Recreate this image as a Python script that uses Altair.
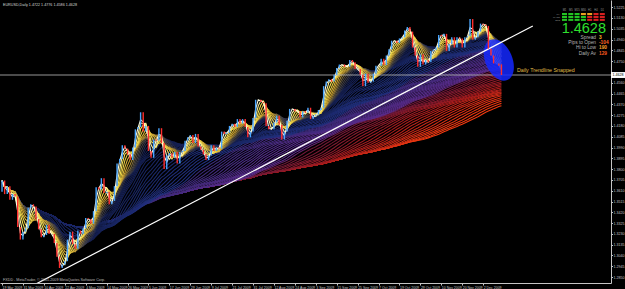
import json
import altair as alt
import pandas as pd

# ---------------- data ----------------
# daily closes, 19 Mar 2009 .. 11 Dec 2009 (bar index 0..191)
closes = [
    1.3700, 1.3580, 1.3650, 1.3530, 1.3580, 1.3560, 1.3290, 1.3180, 1.3250, 1.3280,
    1.3460, 1.3490, 1.3470, 1.3360, 1.3270, 1.3200, 1.3220, 1.3310, 1.3230, 1.3230,
    1.3150, 1.3030, 1.2930, 1.2960, 1.2990, 1.3180, 1.3250, 1.3140, 1.3100, 1.3260,
    1.3230, 1.3280, 1.3370, 1.3360, 1.3320, 1.3430, 1.3640, 1.3620, 1.3720, 1.3590,
    1.3600, 1.3490, 1.3520, 1.3650, 1.3850, 1.3890, 1.4010, 1.3980, 1.3930, 1.3880,
    1.3990, 1.4150, 1.4170, 1.4300, 1.4130, 1.4180, 1.3960, 1.3900, 1.4060, 1.4050,
    1.4160, 1.4030, 1.3800, 1.3920, 1.3940, 1.3900, 1.3950, 1.3850, 1.3950, 1.3960,
    1.4050, 1.4080, 1.4100, 1.4030, 1.4110, 1.4000, 1.3970, 1.3930, 1.3880, 1.3920,
    1.4010, 1.3960, 1.3990, 1.3980, 1.4130, 1.4110, 1.4120, 1.4180, 1.4200, 1.4170,
    1.4240, 1.4200, 1.4240, 1.4170, 1.4080, 1.4130, 1.4250, 1.4410, 1.4410, 1.4390,
    1.4380, 1.4180, 1.4150, 1.4150, 1.4210, 1.4270, 1.4190, 1.4060, 1.4130, 1.4225,
    1.4330, 1.4330, 1.4310, 1.4310, 1.4255, 1.4310, 1.4295, 1.4340, 1.4240, 1.4270,
    1.4280, 1.4320, 1.4340, 1.4530, 1.4570, 1.4590, 1.4570, 1.4630, 1.4690, 1.4720,
    1.4720, 1.4700, 1.4700, 1.4760, 1.4740, 1.4680, 1.4680, 1.4630, 1.4530, 1.4640,
    1.4560, 1.4570, 1.4640, 1.4710, 1.4710, 1.4770, 1.4715, 1.4800, 1.4855, 1.4930,
    1.4930, 1.4910, 1.4950, 1.4960, 1.5020, 1.5050, 1.5010, 1.4870, 1.4800, 1.4700,
    1.4810, 1.4720, 1.4760, 1.4740, 1.4840, 1.4850, 1.4870, 1.4980, 1.4970, 1.4990,
    1.4840, 1.4900, 1.4960, 1.4870, 1.4960, 1.4950, 1.4870, 1.4960, 1.4970, 1.5120,
    1.4940, 1.4960, 1.5010, 1.5080, 1.5070, 1.5060, 1.4860, 1.4800, 1.4730, 1.4730,
    1.4710, 1.4628,
]
first_open = 1.3600
last_open = 1.4722

date_labels = [
    "19 Mar 2009", "31 Mar 2009", "10 Apr 2009", "22 Apr 2009", "4 May 2009",
    "14 May 2009", "26 May 2009", "5 Jun 2009", "17 Jun 2009", "29 Jun 2009",
    "9 Jul 2009", "21 Jul 2009", "31 Jul 2009", "12 Aug 2009", "24 Aug 2009",
    "3 Sep 2009", "15 Sep 2009", "25 Sep 2009", "7 Oct 2009", "19 Oct 2009",
    "29 Oct 2009", "10 Nov 2009", "20 Nov 2009", "2 Dec 2009",
]
date_tick_bars = list(range(0, 8 * len(date_labels), 8))

price_ticks = [
    1.5225, 1.5130, 1.5035, 1.4940, 1.4845, 1.4750, 1.4560, 1.4465, 1.4370,
    1.4275, 1.4180, 1.4085, 1.3990, 1.3895, 1.3800, 1.3705, 1.3610, 1.3515,
    1.3420, 1.3325, 1.3230, 1.3135, 1.3040, 1.2945, 1.2850,
]

# moving-average ribbon periods (fast -> slow)
fast_periods = list(range(2, 19))
mid_periods = list(range(20, 51, 2))
slow_periods = list(range(52, 91, 2))
vslow_periods = list(range(93, 163, 3))

trend_bar = [8, 203]
trend_price = [1.2730, 1.5060]
bid_price = 1.4628
ellipse_bar = [190]
ellipse_price = [1.4760]

header_text = "EURUSD,Daily  1.4722 1.4776 1.4586 1.4628"
footer_text = "FXDD - MetaTrader, \u00a9 2001-2009 MetaQuotes Software Corp."
note_text = "Daily Trendline Snapped"
big_price = "1.4628"
stat_labels = ["Spread", "Pips to Open", "Hi to Low", "Daily Av"]
stat_values = ["3", "-104", "190", "129"]
stat_colors = ["#ffb428", "#ff6a28", "#ffa028", "#ff5a1e"]
panel_cols = ["M1", "M5", "M15", "M30", "H1", "H4", "D1"]
panel_rows = ["MA", "MACD", "STO"]
G, O, R = "#22c422", "#e8a020", "#d82020"
panel_colors = [[G, G, G], [G, G, G], [G, G, G], [O, G, G], [O, R, R], [R, R, R], [R, R, R]]

# ---------------- build ----------------
opens = [first_open] + closes[:-1]
opens[-1] = last_open
df = pd.DataFrame({"i": list(range(len(closes))), "close": closes, "open": opens})

FONT = "Liberation Sans"
AX = "#c4c4c4"
W, H = 611, 283
xscale = alt.Scale(domain=[-0.77, 232.9], nice=False, zero=False)
yscale = alt.Scale(domain=[1.2798, 1.5288], nice=False, zero=False)
xaxis = alt.Axis(
    values=date_tick_bars,
    labelExpr=json.dumps(date_labels) + "[round(datum.value / 8)]",
    title=None, grid=False, labelAlign="left", labelPadding=0.5, tickSize=2,
    labelFontSize=3.5, labelFont=FONT, labelColor=AX, domainColor=AX, tickColor=AX,
    labelFlush=False, labelOverlap=False, orient="bottom",
)
yaxis = alt.Axis(
    values=price_ticks, format=".4f", title=None, grid=False, orient="right",
    labelPadding=0.5, tickSize=1.5, labelFontSize=3.6, labelFont=FONT, labelColor=AX,
    domainColor=AX, tickColor=AX, labelOverlap=False, labelFlush=False,
)


def X(field="i:Q"):
    return alt.X(field, scale=xscale, axis=xaxis)


def Y(field):
    return alt.Y(field, scale=yscale, axis=yaxis)


color_scale = alt.Scale(
    domain=[2, 4, 7, 10, 14, 30, 50, 52, 88, 93, 125, 162],
    range=["#fffde0", "#f5e050", "#c8a030", "#504a40", "#141e4e", "#1a2868",
           "#22307e", "#3a2a78", "#5c2c8c", "#6e1838", "#a81c1c", "#f23a10"],
    interpolate="rgb",
)


def ma_layer(periods):
    c = alt.Chart(df)
    for p in periods:
        c = c.transform_window(
            **{f"m{p}": "mean(close)"}, frame=[-(p - 1), 0], sort=[alt.SortField("i")]
        )
    c = c.transform_fold([f"m{p}" for p in reversed(periods)], as_=["key", "ma"])
    c = c.transform_calculate(period="toNumber(substring(datum.key, 1))")
    return c.mark_line(strokeWidth=1.1, clip=True).encode(
        x=X(), y=Y("ma:Q"),
        color=alt.Color("period:Q", scale=color_scale, legend=None),
        detail="key:N",
    )


layers = [ma_layer(vslow_periods), ma_layer(slow_periods), ma_layer(mid_periods), ma_layer(fast_periods)]

bid = alt.Chart(pd.DataFrame({"p": [bid_price]})).mark_rule(color="#bdbdbd", strokeWidth=0.8).encode(
    y=Y("p:Q"), x=alt.value(0), x2=alt.value(W))
layers.append(bid)

ell = alt.Chart(pd.DataFrame({"i": ellipse_bar, "p": ellipse_price})).mark_point(
    shape="M 0 -1 A 0.62 1 0 1 1 0 1 A 0.62 1 0 1 1 0 -1 Z",
    filled=True, size=1900, angle=337, color="#1428ff", opacity=0.85, strokeWidth=0,
).encode(x=X(), y=Y("p:Q"))
layers.append(ell)

trend = alt.Chart(pd.DataFrame({"i": trend_bar, "p": trend_price})).mark_line(
    color="#ffffff", strokeWidth=1.2, clip=True).encode(x=X(), y=Y("p:Q"))
layers.append(trend)

candles = alt.Chart(df).transform_calculate(
    dir="datum.close >= datum.open ? 'up' : 'down'"
).mark_rule(strokeWidth=1.4, clip=True).encode(
    x=X(), y=Y("open:Q"), y2="close:Q",
    color=alt.Color("dir:N", scale=alt.Scale(domain=["up", "down"], range=["#4aa6ff", "#ff2e2e"]), legend=None),
)
layers.append(candles)

one = pd.DataFrame({"a": [0]})


def txt(text, x, y, size, color, align="left", weight="normal"):
    return alt.Chart(one).mark_text(
        text=text, align=align, baseline="alphabetic", fontSize=size, font=FONT,
        color=color, fontWeight=weight,
    ).encode(x=alt.value(x), y=alt.value(y))


# current price box on the axis
layers.append(alt.Chart(pd.DataFrame({"p1": [bid_price + 0.0026], "p2": [bid_price - 0.0026]})).mark_rect(
    color="#ffffff").encode(y=Y("p1:Q"), y2="p2:Q", x=alt.value(W), x2=alt.value(625)))
layers.append(alt.Chart(pd.DataFrame({"p": [bid_price]})).mark_text(
    text=big_price, align="left", baseline="middle", fontSize=3.6, font=FONT, color="#000000"
).encode(x=alt.value(W + 1.5), y=Y("p:Q")))

layers.append(txt(header_text, 3, 6, 3.7, "#d8d8d8"))
layers.append(txt(footer_text, 3, 281, 3.7, "#b8b8b8"))
layers.append(txt(note_text, 517, 72, 5.3, "#e0be48"))
layers.append(txt(big_price, 606, 32.5, 14.5, "#2ee02e", align="right"))
for k, (lab, val, col) in enumerate(zip(stat_labels, stat_values, stat_colors)):
    yy = 38.5 + k * 5.4
    layers.append(txt(lab, 596, yy, 4.8, "#b4b4b4", align="right"))
    layers.append(txt(val, 599, yy, 4.8, col, align="left", weight="bold"))

for c, name in enumerate(panel_cols):
    cx = 562 + c * 6.3
    layers.append(txt(name, cx + 2.5, 11, 2.6, "#9a9a9a", align="center"))
    for r, colr in enumerate(panel_colors[c]):
        y0 = 13 + r * 2.9
        layers.append(alt.Chart(one).mark_rect(color=colr).encode(
            x=alt.value(cx), x2=alt.value(cx + 5), y=alt.value(y0), y2=alt.value(y0 + 2.1)))
for r, name in enumerate(panel_rows):
    layers.append(txt(name, 560, 15 + r * 2.9, 2.4, "#9a9a9a", align="right"))

chart = alt.layer(*layers).properties(
    width=W, height=H,
    padding={"left": 0, "top": 0, "right": 625 - W, "bottom": 289 - H},
    autosize="none",
).configure(background="#000000").configure_view(strokeWidth=0)

chart.save("out.html", embed_options={"renderer": "svg", "actions": False})
